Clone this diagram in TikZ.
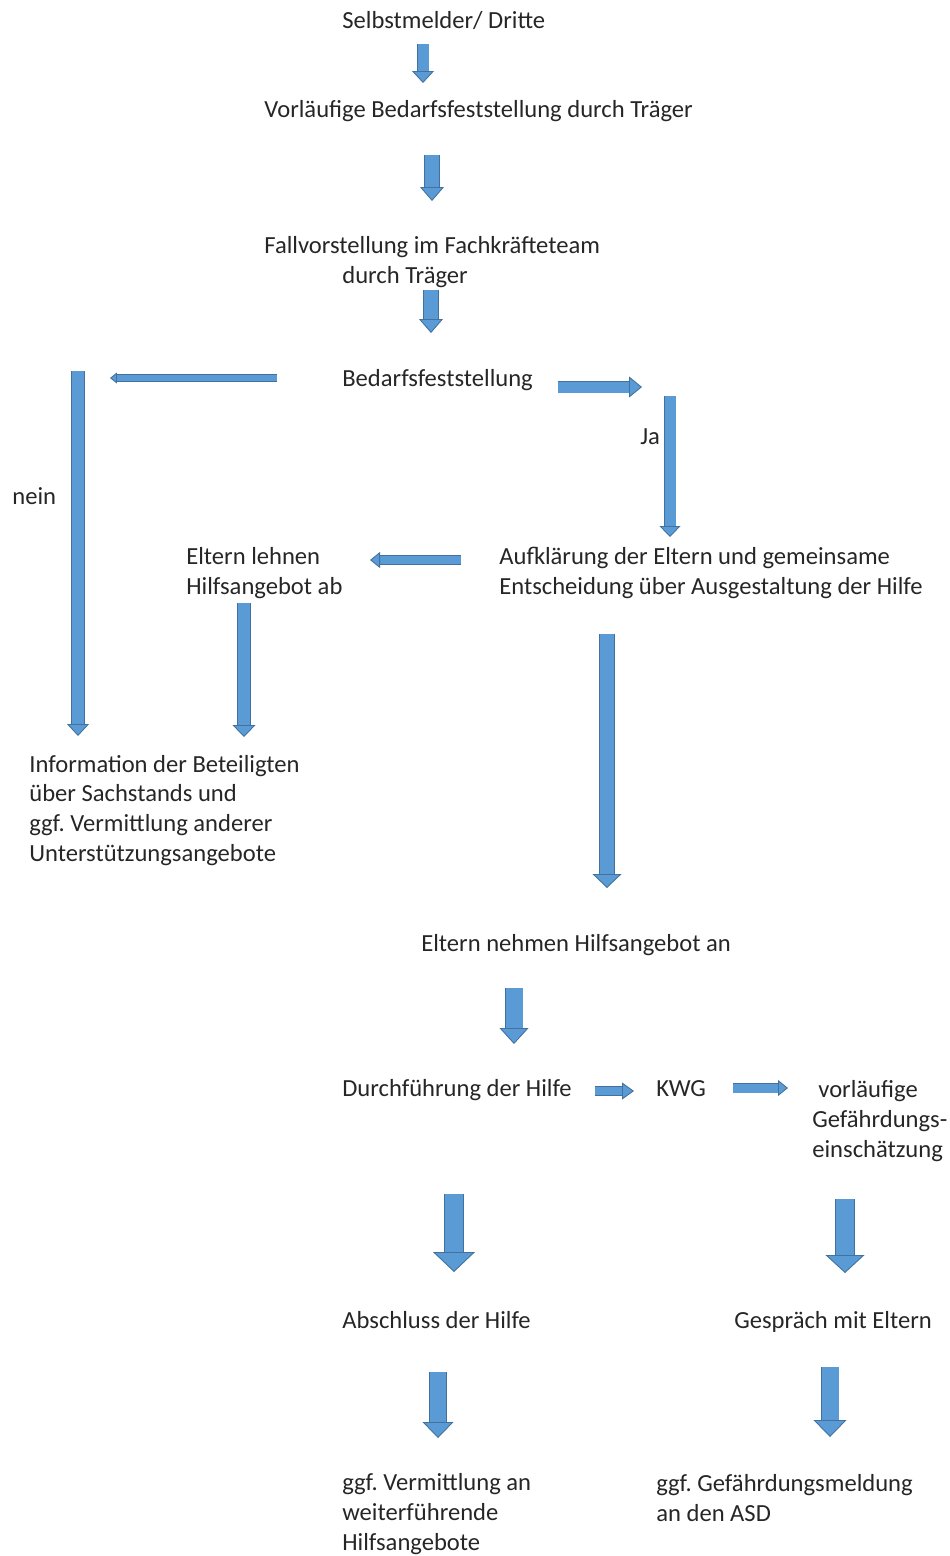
\documentclass[tikz,border=0pt]{standalone}
\usepackage{fontspec}
\setmainfont{Carlito}
\usepackage{xcolor}
\usepackage{tikz}
\usetikzlibrary{arrows.meta}
\definecolor{arrowblue}{RGB}{91,155,213}
\definecolor{arrowedge}{RGB}{65,113,156}
\definecolor{ink}{RGB}{38,38,38}
\frenchspacing

\begin{document}
\begin{tikzpicture}[
  x=0.02cm, y=-0.02cm,
  txt/.style={inner sep=0pt, anchor=base west, align=left, text=ink,
    font=\fontsize{14pt}{16.84pt}\selectfont},
  blockarrow/.style n args={3}{draw=arrowblue, line width=#1,
    -{Triangle[width=#2, length=#3, fill=arrowblue, color=arrowedge, line width=0.5pt]},
    preaction={draw=arrowedge, line width=#1+1pt, arrows=-, shorten >=#3-0.3pt}}
]
\useasboundingbox (0,0) rectangle (950,1556);

% texts (multi-line nodes sit on their last baseline)
\node[txt] (sel) at (342,28) {Selbstmelder/ Dritte};
\node[txt] (vorl) at (264,117) {Vorläufige Bedarfsfeststellung durch Träger};
\node[txt] (fall) at (264,283) {Fallvorstellung im Fachkräfteteam\\\hspace*{1.56cm}durch Träger};
\node[txt] (bedarf) at (342,386) {Bedarfsfeststellung};
\node[txt] (nein) at (12,504) {nein};
\node[txt] (ja) at (640,444) {Ja};
\node[txt] (lehnen) at (186,594) {Eltern lehnen\\Hilfsangebot ab};
\node[txt] (aufkl) at (499,594) {Aufklärung der Eltern und gemeinsame\\Entscheidung über Ausgestaltung der Hilfe};
\node[txt] (info) at (29,861) {Information der Beteiligten\\über Sachstands und\\ggf. Vermittlung anderer\\Unterstützungsangebote};
\node[txt] (nehmen) at (421,951) {Eltern nehmen Hilfsangebot an};
\node[txt] (durchf) at (342,1096) {Durchführung der Hilfe};
\node[txt] (kwg) at (656,1096) {KWG};
\node[txt] (gefein) at (812,1157) {\hspace*{0.12cm}vorläufige\\Gefährdungs-\\einschätzung};
\node[txt] (abschl) at (342,1328) {Abschluss der Hilfe};
\node[txt] (gespr) at (734,1328) {Gespräch mit Eltern};
\node[txt] (vermittl) at (342,1550) {ggf. Vermittlung an\\weiterführende\\Hilfsangebote};
\node[txt] (meldung) at (656,1521) {ggf. Gefährdungsmeldung\\an den ASD};

% arrow ends
\coordinate (a1s) at (423,44);   \coordinate (a1e) at (423,83);
\coordinate (a2s) at (432,155);  \coordinate (a2e) at (432,201);
\coordinate (a3s) at (431,290);  \coordinate (a3e) at (431,333);
\coordinate (a4s) at (277,378);  \coordinate (a4e) at (110,378);
\coordinate (a5s) at (78,371);   \coordinate (a5e) at (78,736);
\coordinate (a6s) at (558,387);  \coordinate (a6e) at (642,387);
\coordinate (a7s) at (670,396);  \coordinate (a7e) at (670,537);
\coordinate (a8s) at (461,560);  \coordinate (a8e) at (370,560);
\coordinate (a9s) at (244,603);  \coordinate (a9e) at (244,737);
\coordinate (a10s) at (607,634); \coordinate (a10e) at (607,888);
\coordinate (a11s) at (514,988); \coordinate (a11e) at (514,1044);
\coordinate (a12s) at (595,1091); \coordinate (a12e) at (634,1091);
\coordinate (a13s) at (733,1088); \coordinate (a13e) at (788,1088);
\coordinate (a14s) at (454,1194); \coordinate (a14e) at (454,1272);
\coordinate (a15s) at (845,1199); \coordinate (a15e) at (845,1273);
\coordinate (a16s) at (438,1372); \coordinate (a16e) at (438,1438);
\coordinate (a17s) at (830,1367); \coordinate (a17e) at (830,1437);

% block arrows
\draw[blockarrow={0.22cm}{0.44cm}{0.24cm}] (a1s) -- (a1e);
\draw[blockarrow={0.28cm}{0.48cm}{0.28cm}] (a2s) -- (a2e);
\draw[blockarrow={0.28cm}{0.48cm}{0.28cm}] (a3s) -- (a3e);
\draw[blockarrow={0.12cm}{0.22cm}{0.14cm}] (a4s) -- (a4e);
\draw[blockarrow={0.24cm}{0.44cm}{0.24cm}] (a5s) -- (a5e);
\draw[blockarrow={0.22cm}{0.42cm}{0.26cm}] (a6s) -- (a6e);
\draw[blockarrow={0.22cm}{0.42cm}{0.22cm}] (a7s) -- (a7e);
\draw[blockarrow={0.16cm}{0.32cm}{0.2cm}] (a8s) -- (a8e);
\draw[blockarrow={0.24cm}{0.46cm}{0.24cm}] (a9s) -- (a9e);
\draw[blockarrow={0.28cm}{0.58cm}{0.28cm}] (a10s) -- (a10e);
\draw[blockarrow={0.34cm}{0.58cm}{0.32cm}] (a11s) -- (a11e);
\draw[blockarrow={0.16cm}{0.34cm}{0.24cm}] (a12s) -- (a12e);
\draw[blockarrow={0.18cm}{0.32cm}{0.2cm}] (a13s) -- (a13e);
\draw[blockarrow={0.36cm}{0.84cm}{0.4cm}] (a14s) -- (a14e);
\draw[blockarrow={0.36cm}{0.78cm}{0.36cm}] (a15s) -- (a15e);
\draw[blockarrow={0.32cm}{0.62cm}{0.32cm}] (a16s) -- (a16e);
\draw[blockarrow={0.34cm}{0.66cm}{0.34cm}] (a17s) -- (a17e);

\end{tikzpicture}
\end{document}
